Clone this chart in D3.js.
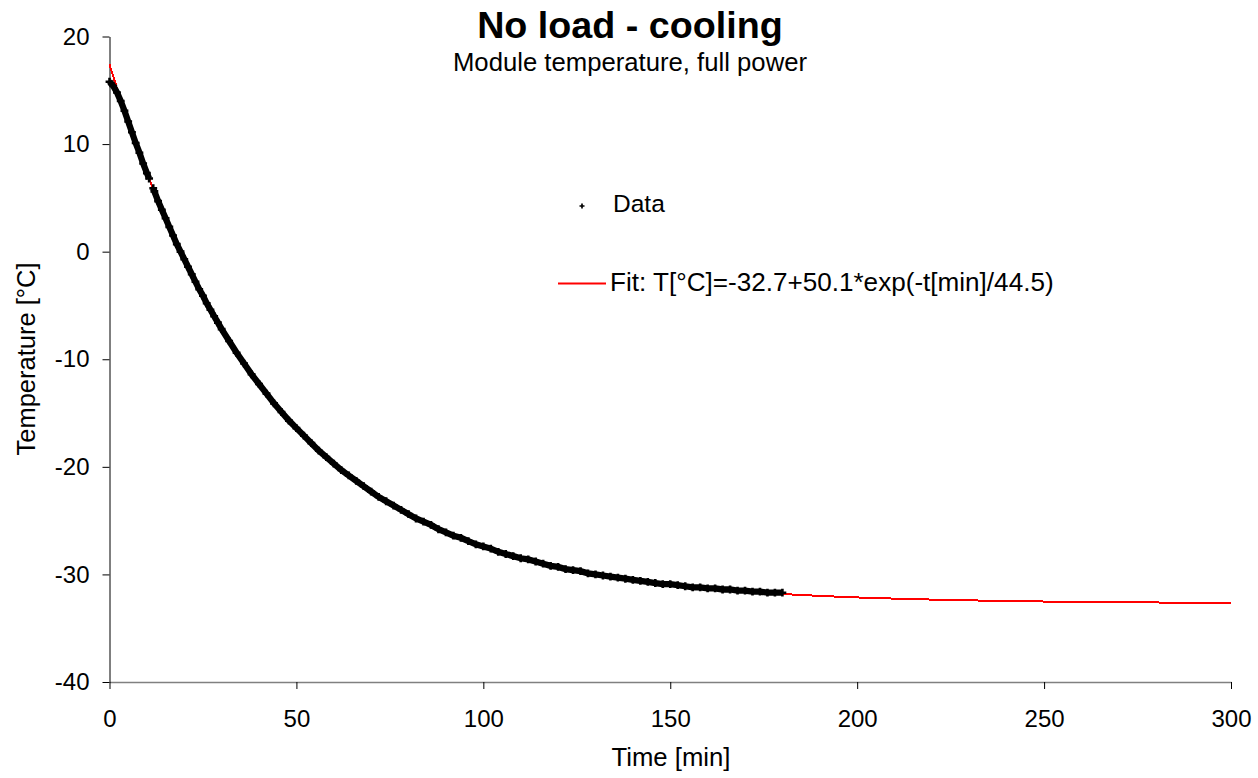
<!DOCTYPE html>
<html>
<head>
<meta charset="utf-8">
<script src="https://cdn.jsdelivr.net/npm/d3@7"></script>
<style>
  html, body { margin: 0; padding: 0; background: #fff; }
  svg { display: block; font-family: "Liberation Sans", Arial, sans-serif; }
</style>
</head>
<body>
<svg id="chart" width="1258" height="778"></svg>
<script>
// ---- data ----
const title = "No load - cooling";
const subtitle = "Module temperature, full power";
const xLabel = "Time [min]";
const yLabel = "Temperature [°C]";
const dataLabel = "Data";
const fitLabel = "Fit: T[°C]=-32.7+50.1*exp(-t[min]/44.5)";

const xTicks = [0, 50, 100, 150, 200, 250, 300];
const yTicks = [-40, -30, -20, -10, 0, 10, 20];

// measured data (null = gap in the record)
const dataTime = [0,1,2,3,4,5,6,7,8,9,10,10.6,11.1,11.7,12,13,14,15,16,17,18,19,20,21,22,23,24,25,26,27,28,29,30,
  32,34,36,38,40,42,44,46,48,50,52,54,56,58,60,62,64,66,68,70,72,74,76,78,80,82,84,86,88,90,
  92,94,96,98,100,102,104,106,108,110,112,114,116,118,120,122,124,126,128,130,132,134,136,138,140,
  142,144,146,148,150,152,154,156,158,160,162,164,166,168,170,172,174,176,178,180];
const dataTemp = [15.8,15.4,14.8,14.0,13.1,12.1,11.1,10.1,9.2,8.2,7.3,6.8,null,5.9,5.6,4.7,3.9,3.1,2.3,1.5,0.7,0.0,-0.7,-1.4,-2.1,-2.8,-3.5,-4.1,-4.8,-5.4,-6.0,-6.6,-7.2,
  -8.3,-9.4,-10.4,-11.4,-12.3,-13.2,-14.1,-14.9,-15.7,-16.4,-17.1,-17.8,-18.5,-19.1,-19.7,-20.3,-20.8,-21.3,-21.8,-22.3,-22.8,-23.2,-23.6,-24.0,-24.4,-24.8,-25.1,-25.4,-25.8,-26.1,
  -26.4,-26.6,-26.9,-27.2,-27.4,-27.6,-27.9,-28.1,-28.3,-28.5,-28.6,-28.8,-29.0,-29.2,-29.3,-29.5,-29.6,-29.7,-29.9,-30.0,-30.1,-30.2,-30.3,-30.4,-30.5,
  -30.6,-30.7,-30.8,-30.9,-30.9,-31.0,-31.1,-31.2,-31.2,-31.3,-31.3,-31.4,-31.4,-31.5,-31.5,-31.6,-31.6,-31.7,-31.7,-31.7];

// fit curve as drawn (red line)
const fitTime = [0,1,2,3,4,5,6,8,10,11,12,14,16,20,25,30,40,50,60,70,80,90,100,110,120,130,140,150,160,170,180,
  190,200,210,220,230,240,250,260,270,280,290,300];
const fitTemp = [17.40,16.29,15.20,14.13,13.09,12.08,11.08,9.16,7.32,6.43,5.56,3.88,2.27,-0.74,-4.13,-7.17,-12.31,-16.41,-19.69,-22.31,-24.40,-26.07,-27.40,-28.47,-29.32,-30.00,-30.54,-30.98,-31.33,-31.60,-31.82,
  -32.00,-32.14,-32.25,-32.34,-32.41,-32.47,-32.52,-32.55,-32.58,-32.61,-32.63,-32.64];

// ---- drawing ----
const svg = d3.select("#chart");
const x = d3.scaleLinear().domain([0, 300]).range([109.5, 1231]);
const y = d3.scaleLinear().domain([-40, 20]).range([682, 36.5]);
const font = "\"Liberation Sans\", Arial, sans-serif";
const fmt = d => String(d);

// titles
svg.append("text").attr("x", 630).attr("y", 38).attr("text-anchor", "middle")
  .attr("font-size", 37.7).attr("font-weight", "bold").attr("fill", "#000").text(title);
svg.append("text").attr("x", 630).attr("y", 71).attr("text-anchor", "middle")
  .attr("font-size", 25.7).attr("fill", "#000").text(subtitle);

// x axis
const xAxis = svg.append("g").attr("transform", "translate(0,682)")
  .call(d3.axisBottom(x).tickValues(xTicks).tickSize(7).tickSizeOuter(0).tickPadding(21).tickFormat(fmt));
xAxis.select(".domain").attr("stroke", "#808080").attr("stroke-width", 1.3);
xAxis.selectAll(".tick line").attr("stroke", "#000");
xAxis.selectAll(".tick text").attr("font-size", 24).attr("font-family", font).attr("fill", "#000");

// y axis
const yAxis = svg.append("g").attr("transform", "translate(109.5,0)")
  .call(d3.axisLeft(y).tickValues(yTicks).tickSize(7).tickSizeOuter(0).tickPadding(13).tickFormat(fmt));
yAxis.select(".domain").attr("stroke", "#000");
yAxis.selectAll(".tick line").attr("stroke", "#000");
yAxis.selectAll(".tick text").attr("font-size", 24).attr("font-family", font).attr("fill", "#000");

// axis titles
svg.append("text").attr("x", 671).attr("y", 766).attr("text-anchor", "middle")
  .attr("font-size", 25.7).attr("fill", "#000").text(xLabel);
svg.append("text").attr("transform", "translate(35,359) rotate(-90)").attr("text-anchor", "middle")
  .attr("font-size", 25.5).attr("fill", "#000").text(yLabel);

// fit line
const fitPts = fitTime.map((t, i) => [t, fitTemp[i]]);
svg.append("path").datum(fitPts)
  .attr("fill", "none").attr("stroke", "#ff0000").attr("stroke-width", 2)
  .attr("shape-rendering", "crispEdges")
  .attr("d", d3.line().x(d => x(d[0])).y(d => y(d[1])));

// data: dense plus markers, overlapping into a band
const dataPts = dataTime.map((t, i) => [t, dataTemp[i]]);
svg.append("path").datum(dataPts)
  .attr("fill", "none").attr("stroke", "#000").attr("stroke-width", 6.3)
  .attr("d", d3.line().defined(d => d[1] !== null).x(d => x(d[0])).y(d => y(d[1])));
const plus = d3.symbol().type(d3.symbolCross).size(34);
svg.append("g").selectAll("path").data(dataPts.filter(d => d[1] !== null)).join("path")
  .attr("transform", d => `translate(${x(d[0])},${y(d[1])})`)
  .attr("d", plus).attr("fill", "#000");

// legend
svg.append("path").attr("transform", "translate(582,206)")
  .attr("d", d3.symbol().type(d3.symbolCross).size(14)).attr("fill", "#000");
svg.append("text").attr("x", 613).attr("y", 212).attr("font-size", 24.5).attr("fill", "#000").text(dataLabel);
svg.append("line").attr("x1", 558).attr("x2", 606).attr("y1", 283.5).attr("y2", 283.5)
  .attr("stroke", "#ff0000").attr("stroke-width", 2);
svg.append("text").attr("x", 610).attr("y", 291).attr("font-size", 26.1).attr("fill", "#000").text(fitLabel);
</script>
</body>
</html>
